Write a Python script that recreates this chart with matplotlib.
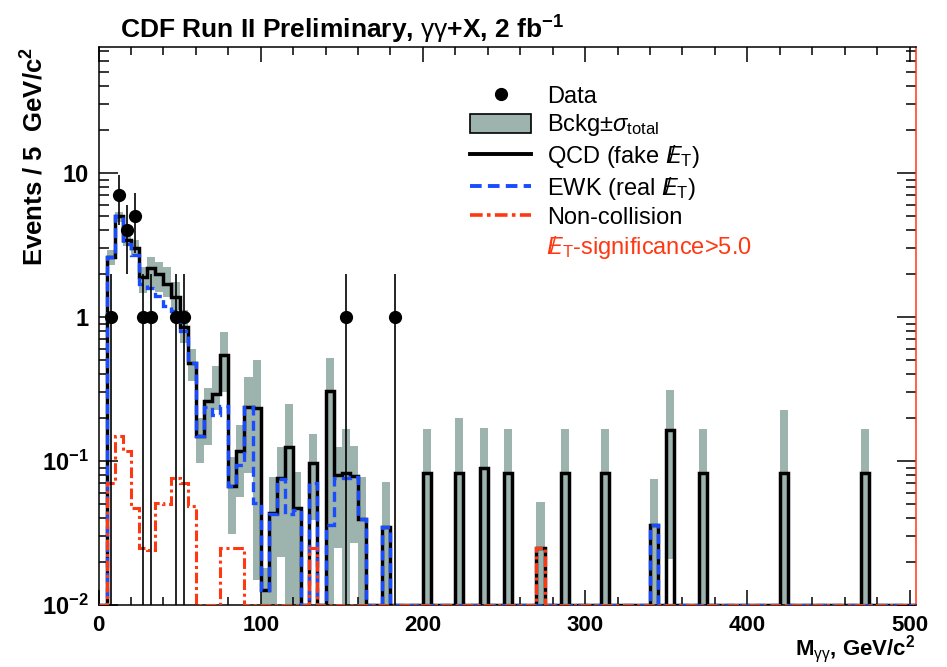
import numpy as np
import matplotlib
matplotlib.use('Agg')
import matplotlib.pyplot as plt
from matplotlib.lines import Line2D
from matplotlib.patches import Patch
from matplotlib.ticker import LogLocator, NullFormatter, MultipleLocator

plt.rcParams['font.family'] = ['Liberation Sans', 'DejaVu Sans']
plt.rcParams['mathtext.fontset'] = 'custom'
plt.rcParams['mathtext.rm'] = 'Liberation Sans'
plt.rcParams['mathtext.it'] = 'Liberation Sans:italic'
plt.rcParams['mathtext.bf'] = 'Liberation Sans:bold'

# --- values, 5 GeV bins ---
# bins 0-5, 5-10, ..., 180-185
qcd_low = [0, 2.6, 5.0, 3.4, 3.0, 1.9, 2.2, 2.0, 1.7, 1.38,
           0.85, 0.48, 0.148, 0.26, 0.29, 0.545, 0.067, 0.118, 0.236, 0.233,
           0.0127, 0.0435, 0.076, 0.126, 0.047, 0, 0.097, 0, 0.306, 0.08,
           0.083, 0.079, 0.0395, 0, 0, 0.035, 0]
ewk_low = [0, 2.6, 5.0, 3.2, 2.7, 1.7, 1.6, 1.4, 1.2, 1.1,
           0.8, 0.48, 0.148, 0.236, 0.21, 0.24, 0.067, 0.094, 0.236, 0.051,
           0.0127, 0.043, 0.075, 0.043, 0.046, 0, 0.07, 0, 0.036, 0.076,
           0.076, 0.078, 0.0395, 0, 0, 0.035, 0]
noncoll_low = [0, 0.07, 0.15, 0.118, 0.047, 0.025, 0.024, 0.051, 0.05, 0.076,
               0.07, 0.049, 0, 0, 0, 0.025, 0.025, 0.025, 0, 0,
               0, 0, 0, 0, 0, 0, 0.025, 0, 0, 0,
               0, 0, 0, 0, 0, 0, 0]
band_lo_low = [np.nan, 2.3, 4.6, 3.1, 2.6, 1.46, 1.6, 1.5, 1.38, 1.12,
               0.66, 0.36, 0.097, 0.13, 0.226, 0.3, 0.031, 0.056, 0.082, 0.015,
               0.005, 0.005, 0.0216, 0.005, 0.005, np.nan, 0.039, np.nan, 0.005, 0.025,
               0.005, 0.027, 0.005, np.nan, np.nan, 0.005, np.nan]
band_hi_low = [np.nan, 2.9, 5.4, 3.7, 3.4, 2.23, 2.6, 2.4, 2.23, 1.76,
               1.12, 0.6, 0.198, 0.32, 0.46, 0.79, 0.107, 0.178, 0.385, 0.5,
               0.018, 0.078, 0.126, 0.25, 0.084, np.nan, 0.155, np.nan, 0.52, 0.126,
               0.166, 0.128, 0.078, np.nan, np.nan, 0.072, np.nan]

# isolated bins above 185 GeV (lower bin edge)
spike_edges = [200, 220, 235, 250, 270, 285, 310, 340, 350, 370, 420, 470]
spike_qcd = [0.083, 0.083, 0.089, 0.083, 0.025, 0.083, 0.083, 0.036, 0.164, 0.083, 0.083, 0.083]
spike_band_lo = [0.005, 0.005, 0.005, 0.005, 0.005, 0.005, 0.005, 0.005, 0.021, 0.005, 0.005, 0.005]
spike_band_hi = [0.166, 0.2, 0.17, 0.166, 0.052, 0.166, 0.166, 0.075, 0.31, 0.166, 0.226, 0.166]
ewk_spike_edges = [340]
ewk_spike_vals = [0.036]
noncoll_spike_edges = [270]
noncoll_spike_vals = [0.025]

data_mass = [7.5, 12.5, 17.5, 22.5, 27.5, 32.5, 47.5, 52.5, 152.5, 182.5]
data_counts = [1, 7, 4, 5, 1, 1, 1, 1, 1, 1]

# --- build full histograms ---
edges = np.arange(0, 510, 5)
nb = len(edges) - 1

def full(low, sp_edges=(), sp_vals=(), fill=0.0):
    h = np.full(nb, fill, dtype=float)
    h[:len(low)] = low
    for e, v in zip(sp_edges, sp_vals):
        h[e // 5] = v
    return h

qcd = full(qcd_low, spike_edges, spike_qcd)
ewk = full(ewk_low, ewk_spike_edges, ewk_spike_vals)
noncoll = full(noncoll_low, noncoll_spike_edges, noncoll_spike_vals)
band_lo = full(band_lo_low, spike_edges, spike_band_lo, fill=np.nan)
band_hi = full(band_hi_low, spike_edges, spike_band_hi, fill=np.nan)

ymin = 0.01
def floor(h):
    # empty bins are drawn along the bottom of the frame, as ROOT does
    return np.where(h > 0, h, ymin)

gray = '#9db3ad'
red = '#ff3814'
blue = '#1a4cff'
ewk_ls = (0, (3, 1.6))
nc_ls = (0, (3.5, 1.2, 1, 1.2))

fig = plt.figure(figsize=(9.47, 6.67), dpi=100)
ax = fig.add_axes([98.5/947, 62/667, (916-98.5)/947, 558/667])

centers = edges[:-1] + 2.5
ok = ~np.isnan(band_lo)
ax.bar(centers[ok], band_hi[ok] - band_lo[ok], bottom=band_lo[ok], width=5,
       color=gray, linewidth=0, zorder=1)
ax.stairs(floor(qcd), edges, baseline=None, color='black', lw=2.5, zorder=2)
ax.stairs(floor(ewk), edges, baseline=None, color=blue, lw=2.4,
          linestyle=ewk_ls, zorder=3)
ax.stairs(floor(noncoll), edges, baseline=None, color=red, lw=2.2,
          linestyle=nc_ls, zorder=4)

cnt = np.array(data_counts, dtype=float)
err = np.sqrt(cnt)
err_lo = np.minimum(err, cnt - 1e-4)
ax.errorbar(data_mass, cnt, yerr=[err_lo, err], fmt='o', color='black',
            ms=8.5, elinewidth=1.2, capsize=0, zorder=5)

ax.set_yscale('log')
ax.set_xlim(0, 504)
ax.set_ylim(ymin, 75)

ax.set_yticks([0.01, 0.1, 1, 10])
ax.set_yticklabels([r'10$^{\mathbf{-2}}$', r'10$^{\mathbf{-1}}$', '1', '10'],
                   fontsize=17, fontweight='bold')
ax.yaxis.set_minor_locator(LogLocator(base=10, subs=np.arange(2, 10)))
ax.yaxis.set_minor_formatter(NullFormatter())
ax.set_xticks([0, 100, 200, 300, 400, 500])
ax.set_xticklabels(['0', '100', '200', '300', '400', '500'], fontsize=16, fontweight='bold')
ax.xaxis.set_minor_locator(MultipleLocator(20))

ax.tick_params(which='both', direction='in', top=True, right=True, width=1.1)
ax.tick_params(axis='y', which='major', length=14, pad=7)
ax.tick_params(axis='y', which='minor', length=7)
ax.tick_params(axis='x', which='major', length=11, pad=7)
ax.tick_params(axis='x', which='minor', length=5.5)
for s in ax.spines.values():
    s.set_linewidth(1.1)
ax.spines['right'].set_color(red)

ax.set_ylabel(r'Events / 5  GeV/c$^{\mathbf{2}}$', fontsize=18.5, fontweight='bold',
              ha='right')
ax.yaxis.set_label_coords(-0.062, 1.0)
ax.text(1.0, -0.0896, r'M$_{\mathrm{\gamma\gamma}}$, GeV/c$^{\mathbf{2}}$', transform=ax.transAxes,
        ha='right', va='baseline', fontsize=16, fontweight='bold')

fig.text(120/947, 1 - 30/667,
         r'CDF Run II Preliminary, $\mathrm{\gamma\gamma}$+X, 2 fb$^{\mathbf{-1}}$',
         ha='left', va='center', fontsize=19, fontweight='bold')

handles = [
    Line2D([], [], marker='o', color='black', linestyle='none', ms=8.5),
    Patch(facecolor=gray, edgecolor='black', linewidth=1.2),
    Line2D([], [], color='black', lw=2.8),
    Line2D([], [], color=blue, lw=2.8, linestyle=ewk_ls),
    Line2D([], [], color=red, lw=2.6, linestyle=nc_ls),
    Line2D([], [], linestyle='none'),
]
labels = [
    'Data',
    r'Bckg$\pm\sigma_{\rm total}$',
    r'QCD (fake $\ \not\!\!E_{\rm T}$)',
    r'EWK (real $\ \not\!\!E_{\rm T}$)',
    'Non-collision',
    r'$\not\!\!E_{\rm T}$-significance>5.0',
]
leg = ax.legend(handles, labels, loc='upper left', bbox_to_anchor=(470/947, 1 - 85/667),
                bbox_transform=fig.transFigure, frameon=False, fontsize=17,
                borderpad=0, borderaxespad=0, handlelength=2.6, handleheight=0.85,
                handletextpad=0.65, labelspacing=0.2)
leg.get_texts()[-1].set_color(red)

fig.savefig('out.png', dpi=100)
